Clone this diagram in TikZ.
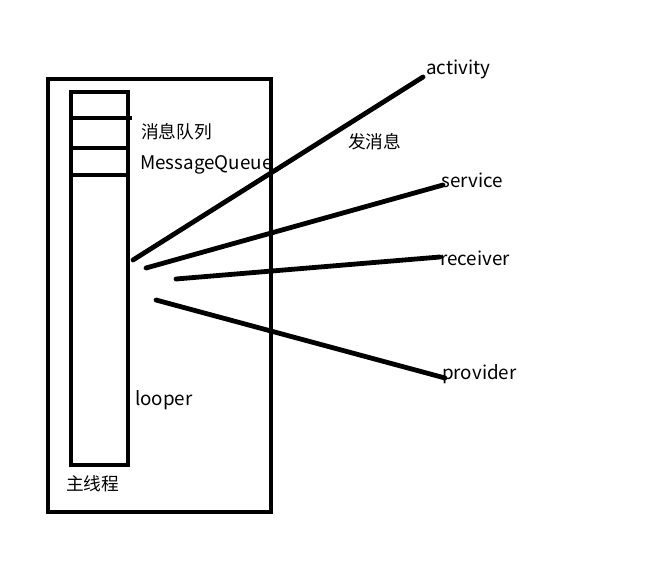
\documentclass[tikz,border=0pt]{standalone}
\usepackage{fontspec}
\setmainfont{Noto Sans CJK SC}
\begin{document}
\begin{tikzpicture}[x=1pt,y=-1pt,
  thick line/.style={line width=4.8pt},
  lbl/.style={anchor=west,inner sep=0pt,font=\fontsize{18.8}{22}\selectfont},
  zh/.style={anchor=west,inner sep=0pt,font=\fontsize{17.7}{21}\selectfont}]
\useasboundingbox (0,0) rectangle (660,567);
% labels
\node[lbl] (mq) at (140,165) {MessageQueue};
\node[zh] (xx) at (141,132) {消息队列};
\node[lbl] (lp) at (135,400) {looper};
\node[zh] (zx) at (66,484) {主线程};
\node[zh] (fx) at (348,142) {发消息};
\node[lbl] (act) at (426,69) {activity};
\node[lbl] (srv) at (441,180) {service};
\node[lbl] (rcv) at (440,258) {receiver};
\node[lbl] (prv) at (442,374) {provider};
% boxes
\draw[thick line] (48,79) rectangle (271,512);
\draw[thick line] (71,92) rectangle (128,465);
\coordinate (h1a) at (71,118); \coordinate (h1b) at (132,118);
\coordinate (h2a) at (71,148); \coordinate (h2b) at (128,148);
\coordinate (h3a) at (71,175); \coordinate (h3b) at (128,175);
\draw[thick line] (h1a) -- (h1b);
\draw[thick line] (h2a) -- (h2b);
\draw[thick line] (h3a) -- (h3b);
% connectors
\coordinate (s1) at (133,260); \coordinate (e1) at (423,77);
\coordinate (s2) at (146,268); \coordinate (e2) at (443,185);
\coordinate (s3) at (176,279); \coordinate (e3) at (440,257);
\coordinate (s4) at (156,300); \coordinate (e4) at (445,378);
\draw[thick line,line cap=round] (s1) -- (e1);
\draw[thick line,line cap=round] (s2) -- (e2);
\draw[thick line,line cap=round] (s3) -- (e3);
\draw[thick line,line cap=round] (s4) -- (e4);
\end{tikzpicture}
\end{document}
